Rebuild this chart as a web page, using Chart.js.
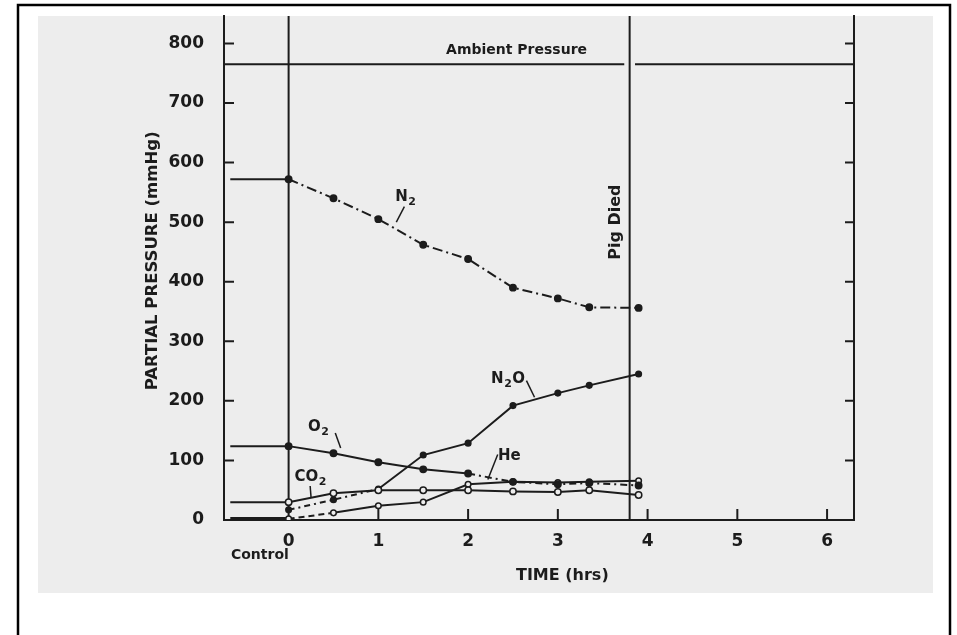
<!DOCTYPE html>
<html>
<head>
<meta charset="utf-8">
<script src="https://cdn.jsdelivr.net/npm/chart.js@4.4.1/dist/chart.umd.min.js"></script>
<style>
  html, body { margin: 0; padding: 0; background: #fff; }
  #wrap { width: 957px; height: 635px; }
</style>
</head>
<body>
<div id="wrap"><canvas id="myChart" width="957" height="635"></canvas></div>
<script>
// time (hrs) of each sample after the start
const times = [0, 0.5, 1, 1.5, 2, 2.5, 3, 3.35, 3.9];
const n2  = [572, 540, 505, 462, 438, 390, 372, 357, 356];
const o2  = [124, 112, 97, 85, 78, 64, 60, 62, 58];
const co2 = [30, 45, 50, 50, 50, 48, 47, 50, 42];
const n2o = [17, 34, 52, 109, 129, 192, 213, 226, 245];
const he  = [2, 12, 24, 30, 60, 64, 63, 64, 66];

// control period values (drawn left of time 0)
const controlStart = -0.65;
const controlN2 = 572, controlO2 = 124, controlCO2 = 30, controlHe = 2;

const ambient = 765;
const pigDied = 3.8;
const xTicks = [0, 1, 2, 3, 4, 5, 6];
const yTicks = [0, 100, 200, 300, 400, 500, 600, 700, 800];
const xMin = -0.72, xMax = 6.3, yMax = 846;

const ink = '#1c1c1c';
const font = 'DejaVu Sans';

function series(vals, control) {
  const pts = times.map((t, i) => ({ x: t, y: vals[i] }));
  if (control !== undefined) pts.unshift({ x: controlStart, y: control });
  return pts;
}

const isControl = c => c.p0.parsed.x < 0;
const hideControlPoint = r => c => (c.raw && c.raw.x < 0 ? 0 : r);

function gasSet(label, data, opts) {
  return Object.assign({
    label: label,
    data: data,
    borderColor: ink,
    borderWidth: 2,
    pointBorderColor: ink,
    pointBackgroundColor: ink,
    pointBorderWidth: 1.5,
    pointRadius: hideControlPoint(3.2),
    tension: 0
  }, opts);
}

const datasets = [
  gasSet('N2', series(n2, controlN2), {
    segment: { borderDash: c => isControl(c) ? [] : [10, 4, 2, 4] }
  }),
  gasSet('O2', series(o2, controlO2), {
    segment: { borderDash: c => (!isControl(c) && c.p0.parsed.x >= 2) ? [7, 4, 2, 4] : [] }
  }),
  gasSet('CO2', series(co2, controlCO2), {
    pointBackgroundColor: '#eeeeee'
  }),
  gasSet('N2O', series(n2o), {
    pointRadius: 2.8,
    segment: { borderDash: c => c.p0.parsed.x < 1 ? [6, 4, 2, 4] : [] }
  }),
  gasSet('He', series(he, controlHe), {
    pointBackgroundColor: '#eeeeee',
    pointRadius: hideControlPoint(2.8),
    segment: {
      borderDash: c => (!isControl(c) && c.p0.parsed.x < 0.5) ? [6, 4] : [],
      borderWidth: c => isControl(c) ? 3.5 : 2
    }
  }),
  // reference lines
  { label: 'zero', data: [{ x: 0, y: 0 }, { x: 0, y: yMax }], borderColor: ink, borderWidth: 2, pointRadius: 0 },
  { label: 'died', data: [{ x: pigDied, y: 0 }, { x: pigDied, y: yMax }], borderColor: ink, borderWidth: 2, pointRadius: 0 },
  { label: 'ambient', data: [{ x: xMin, y: ambient }, { x: pigDied - 0.06, y: ambient }, { x: pigDied, y: null }, { x: pigDied + 0.06, y: ambient }, { x: xMax, y: ambient }],
    borderColor: ink, borderWidth: 2, pointRadius: 0, spanGaps: false }
];

// text annotations, in data units
const notes = [
  { base: 'N', sub: '2', tail: '', x: 1.3, y: 542, lead: [[1.29, 526], [1.2, 500]] },
  { base: 'O', sub: '2', tail: '', x: 0.33, y: 156, lead: [[0.52, 146], [0.58, 121]] },
  { base: 'CO', sub: '2', tail: '', x: 0.24, y: 72, lead: [[0.24, 57], [0.25, 38]] },
  { base: 'He', sub: '', tail: '', x: 2.46, y: 107, lead: [[2.33, 110], [2.22, 68]] },
  { base: 'N', sub: '2', tail: 'O', x: 2.44, y: 236, lead: [[2.65, 234], [2.74, 206]] }
];

function drawChem(ctx, n, px, py) {
  ctx.font = 'bold 15px "' + font + '"';
  const wb = ctx.measureText(n.base).width;
  ctx.font = 'bold 11px "' + font + '"';
  const ws = ctx.measureText(n.sub).width;
  ctx.font = 'bold 15px "' + font + '"';
  const wt = ctx.measureText(n.tail).width;
  let x = px - (wb + ws + wt) / 2;
  ctx.textAlign = 'left';
  ctx.textBaseline = 'middle';
  ctx.fillText(n.base, x, py);
  x += wb;
  ctx.font = 'bold 11px "' + font + '"';
  ctx.fillText(n.sub, x + 0.5, py + 5);
  x += ws + 1;
  ctx.font = 'bold 15px "' + font + '"';
  ctx.fillText(n.tail, x, py);
}

const paper = {
  id: 'paper',
  beforeDraw(chart) {
    const c = chart.ctx;
    c.save();
    c.fillStyle = '#ffffff';
    c.fillRect(0, 0, chart.width, chart.height);
    c.fillStyle = '#ededed';
    c.fillRect(38, 16, 895, 577);
    c.strokeStyle = '#000';
    c.lineWidth = 2.5;
    c.beginPath();
    c.moveTo(18, 635); c.lineTo(18, 5); c.lineTo(950, 5); c.lineTo(950, 635);
    c.stroke();
    c.restore();
  },
  afterDraw(chart) {
    const c = chart.ctx;
    const xs = chart.scales.x, ys = chart.scales.y;
    const a = chart.chartArea;
    c.save();
    c.strokeStyle = ink;
    c.fillStyle = ink;
    c.lineWidth = 2;
    c.beginPath();
    yTicks.forEach(v => {
      if (v === 0) return;
      const py = ys.getPixelForValue(v);
      c.moveTo(a.left, py); c.lineTo(a.left + 10, py);
      c.moveTo(a.right, py); c.lineTo(a.right - 9, py);
    });
    xTicks.forEach(v => {
      if (v === 0) return;
      const px = xs.getPixelForValue(v);
      c.moveTo(px, a.bottom); c.lineTo(px, a.bottom - 11);
    });
    c.stroke();

    // gas labels with leader lines
    c.lineWidth = 1.5;
    notes.forEach(n => {
      drawChem(c, n, xs.getPixelForValue(n.x), ys.getPixelForValue(n.y));
      c.beginPath();
      c.moveTo(xs.getPixelForValue(n.lead[0][0]), ys.getPixelForValue(n.lead[0][1]));
      c.lineTo(xs.getPixelForValue(n.lead[1][0]), ys.getPixelForValue(n.lead[1][1]));
      c.stroke();
    });

    c.textAlign = 'center';
    c.textBaseline = 'middle';
    c.font = 'bold 14px "' + font + '"';
    c.fillText('Ambient Pressure', xs.getPixelForValue(2.54), ys.getPixelForValue(ambient) - 14);
    c.fillText('Control', xs.getPixelForValue(-0.32), a.bottom + 35);
    c.font = 'bold 16px "' + font + '"';
    c.fillText('TIME (hrs)', xs.getPixelForValue(3.05), a.bottom + 56);

    c.save();
    c.translate(xs.getPixelForValue(pigDied) - 14, ys.getPixelForValue(500));
    c.rotate(-Math.PI / 2);
    c.fillText('Pig Died', 0, 0);
    c.restore();

    c.save();
    c.translate(153, ys.getPixelForValue(435));
    c.rotate(-Math.PI / 2);
    c.font = 'bold 16.5px "' + font + '"';
    c.fillText('PARTIAL PRESSURE (mmHg)', 0, 0);
    c.restore();
    c.restore();
  }
};

function noPad(s) {
  s.paddingTop = 0; s.paddingBottom = 0; s.paddingLeft = 0; s.paddingRight = 0;
}

const ctx = document.getElementById('myChart').getContext('2d');
const myChart = new Chart(ctx, {
  type: 'line',
  data: { datasets: datasets },
  options: {
    responsive: false,
    animation: false,
    layout: { padding: { left: 0, top: 16, right: 103, bottom: 0 } },
    plugins: { legend: { display: false }, tooltip: { enabled: false } },
    scales: {
      x: {
        type: 'linear', min: xMin, max: xMax,
        afterBuildTicks: s => { s.ticks = xTicks.map(v => ({ value: v })); },
        afterFit: s => { s.height = 115; noPad(s); },
        grid: { display: false, drawTicks: false },
        border: { display: true, color: ink, width: 2 },
        ticks: { padding: 11, color: ink, font: { family: font, size: 17, weight: 'bold' } }
      },
      y: {
        type: 'linear', min: 0, max: yMax,
        afterBuildTicks: s => { s.ticks = yTicks.map(v => ({ value: v })); },
        afterFit: s => { s.width = 224; noPad(s); },
        grid: { display: false, drawTicks: false },
        border: { display: true, color: ink, width: 2 },
        ticks: { padding: 20, color: ink, font: { family: font, size: 17, weight: 'bold' } }
      },
      y2: {
        type: 'linear', position: 'right', min: 0, max: yMax,
        afterFit: s => { s.width = 0; noPad(s); },
        grid: { display: false, drawTicks: false },
        border: { display: true, color: ink, width: 2 },
        ticks: { display: false }
      }
    }
  },
  plugins: [paper]
});
</script>
</body>
</html>
